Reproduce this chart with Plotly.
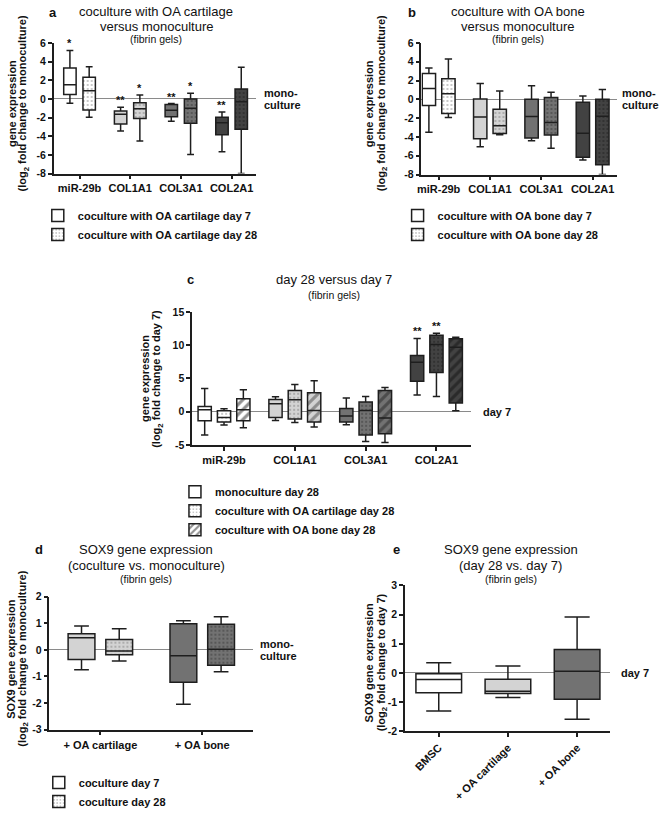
import plotly.graph_objects as go

W, H = 660, 816
FONT = "Liberation Sans, Arial, Helvetica, sans-serif"
AX = "#1e1e1e"

# ---------------- data ----------------
GENES = ["miR-29b", "COL1A1", "COL3A1", "COL2A1"]
# five-number summaries: [lower whisker, Q1, median, Q3, upper whisker]
A_DAY7 = [[-0.45, 0.48, 1.52, 3.32, 5.2], [-3.45, -2.7, -1.65, -1.3, -0.9],
          [-2.4, -1.9, -1.2, -0.6, -0.5], [-5.65, -3.85, -2.55, -1.95, -1.4]]
A_DAY28 = [[-1.97, -1.18, 0.87, 2.32, 3.45], [-4.5, -2.1, -1.05, -0.4, 0.42],
           [-5.95, -2.6, -1.0, 0.0, 0.6], [-8.0, -3.25, -0.3, 1.07, 3.4]]
A_DAY7_SIG = ["*", "**", "**", "**"]
A_DAY28_SIG = ["", "*", "*", ""]

B_DAY7 = [[-3.5, -0.65, 1.15, 2.75, 3.35], [-5.05, -4.2, -1.88, 0.05, 1.7],
          [-4.4, -4.1, -1.82, 0.0, 1.45], [-6.45, -6.15, -3.6, -0.3, 0.35]]
B_DAY28 = [[-1.92, -1.5, 0.6, 2.2, 4.3], [-3.77, -3.63, -2.8, -1.05, 0.9],
           [-5.2, -3.8, -2.47, 0.2, 0.75], [-8.0, -6.95, -1.8, 0.0, 1.05]]

C_MONO = [[-3.5, -1.35, 0.3, 0.8, 3.5], [-1.3, -0.87, 1.2, 1.85, 2.25],
          [-1.95, -1.55, -0.65, 0.5, 2.05], [2.5, 4.6, 7.45, 8.45, 11.0]]
C_CART = [[-2.0, -1.55, -0.85, 0.15, 0.45], [-1.6, -1.1, 1.8, 3.2, 4.1],
          [-4.45, -3.5, 0.2, 1.45, 2.3], [2.3, 5.9, 10.1, 11.5, 11.8]]
C_BONE = [[-2.4, -1.35, 0.3, 1.95, 3.3], [-2.3, -1.55, 0.2, 2.85, 4.65],
          [-4.6, -3.3, -0.95, 3.2, 3.65], [0.15, 1.3, 9.7, 10.95, 11.2]]
C_MONO_SIG = ["", "", "", "**"]
C_CART_SIG = ["", "", "", "**"]

D_GROUPS = ["+ OA cartilage", "+ OA bone"]
D_DAY7 = [[-0.75, -0.36, 0.46, 0.61, 0.9], [-2.05, -1.22, -0.22, 0.98, 1.1]]
D_DAY28 = [[-0.42, -0.18, -0.04, 0.39, 0.79], [-0.82, -0.58, 0.02, 0.96, 1.25]]

E_GROUPS = ["BMSC", "+ OA cartilage", "+ OA bone"]
E_VALUES = [[-1.31, -0.68, -0.23, -0.03, 0.35], [-0.84, -0.71, -0.63, -0.22, 0.24],
            [-1.59, -0.9, 0.06, 0.8, 1.92]]

AB_YTICKS = [-8, -6, -4, -2, 0, 2, 4, 6]
C_YTICKS = [-5, 0, 5, 10, 15]
D_YTICKS = [-3, -2, -1, 0, 1, 2]
E_YTICKS = [-2, -1, 0, 1, 2, 3]

# ---------------- styling ----------------
GENE_FILL = ["#ffffff", "#d3d3d3", "#727272", "#424242"]
DOT_FG = ["#707070", "#6a6a6a", "#2a2a2a", "#161616"]
HATCH_FG = ["#222222", "#4a4a4a", "#262626", "#111111"]
D_FILL = ["#d3d3d3", "#727272"]
E_FILL = ["#ffffff", "#d3d3d3", "#727272"]

fig = go.Figure()


def add_box(ax, pos, s, width, fill, pattern=None, pfg=None):
    xa, ya = "x" + ax, "y" + ax
    if pattern:
        if pattern == ".":
            pat = dict(shape=".", fgcolor=pfg, bgcolor=fill, size=4, solidity=0.2)
        else:
            pat = dict(shape="/", fgcolor=pfg, bgcolor=fill, size=7, solidity=0.45)
        fig.add_trace(go.Bar(
            x=[pos], base=[s[1]], y=[s[3] - s[1]], width=[width],
            marker=dict(color=fill, line=dict(width=0), pattern=pat),
            xaxis=xa, yaxis=ya, showlegend=False, hoverinfo="skip"))
    fig.add_trace(go.Box(
        x=[pos], lowerfence=[s[0]], q1=[s[1]], median=[s[2]], q3=[s[3]],
        upperfence=[s[4]], width=width,
        fillcolor="rgba(0,0,0,0)" if pattern else fill,
        line=dict(color=AX, width=1.5), whiskerwidth=0.55, boxpoints=False,
        xaxis=xa, yaxis=ya, showlegend=False, hoverinfo="skip"))


annotations = []


def px(x):
    return x / W


def py(y):
    return 1 - y / H


def ann(text, x, y, size=11, bold=True, xanchor="center", yanchor="middle",
        angle=0, xref="paper", yref="paper", yshift=0):
    annotations.append(dict(
        text=text, x=x, y=y, xref=xref, yref=yref, xanchor=xanchor,
        yanchor=yanchor, textangle=angle, showarrow=False, yshift=yshift,
        font=dict(family=FONT, size=size, color="#111",
                  weight="bold" if bold else "normal")))


def stars(ax, pos, s, sig):
    if sig:
        ann(sig, pos, s[4], size=11, xref="x" + ax, yref="y" + ax,
            yanchor="bottom", yshift=-1)


# panel a / b
for ax, d7, d28, off, w in (("", A_DAY7, A_DAY28, 0.19, 0.245),
                             ("2", B_DAY7, B_DAY28, 0.19, 0.26)):
    for i in range(len(GENES)):
        add_box(ax, i - off, d7[i], w, GENE_FILL[i])
        add_box(ax, i + off, d28[i], w, GENE_FILL[i], ".", DOT_FG[i])
        if ax == "":
            stars(ax, i - off, d7[i], A_DAY7_SIG[i])
            stars(ax, i + off, d28[i], A_DAY28_SIG[i])

# panel c
for i in range(len(GENES)):
    add_box("3", i - 0.273, C_MONO[i], 0.187, GENE_FILL[i])
    add_box("3", i, C_CART[i], 0.187, GENE_FILL[i], ".", DOT_FG[i])
    add_box("3", i + 0.273, C_BONE[i], 0.187, GENE_FILL[i], "/", HATCH_FG[i])
    stars("3", i - 0.273, C_MONO[i], C_MONO_SIG[i])
    stars("3", i, C_CART[i], C_CART_SIG[i])

# panel d
for i in range(len(D_GROUPS)):
    add_box("4", i - 0.185, D_DAY7[i], 0.263, D_FILL[i])
    add_box("4", i + 0.185, D_DAY28[i], 0.263, D_FILL[i], ".", DOT_FG[i + 1])

# panel e
for i in range(len(E_GROUPS)):
    add_box("5", i, E_VALUES[i], 0.66, E_FILL[i])


# legend-only entries
def leg(name, legend, pattern=None):
    m = dict(color="#ffffff", line=dict(color=AX, width=1.5))
    if pattern == ".":
        m["pattern"] = dict(shape=".", fgcolor="#707070", bgcolor="#ffffff", size=4, solidity=0.2)
    elif pattern == "/":
        m["pattern"] = dict(shape="/", fgcolor="#222222", bgcolor="#ffffff", size=6, solidity=0.45)
    fig.add_trace(go.Bar(x=[None], y=[None], name=name, marker=m, legend=legend,
                         xaxis="x", yaxis="y", showlegend=True, hoverinfo="skip"))


leg("coculture with OA cartilage day 7", "legend")
leg("coculture with OA cartilage day 28", "legend", ".")
leg("coculture with OA bone day 7", "legend2")
leg("coculture with OA bone day 28", "legend2", ".")
leg("monoculture day 28", "legend3")
leg("coculture with OA cartilage day 28", "legend3", ".")
leg("coculture with OA bone day 28", "legend3", "/")
leg("coculture day 7", "legend4")
leg("coculture day 28", "legend4", ".")


def xcfg(dom, rng, labels, anchor, angle=0):
    return dict(domain=[px(dom[0]), px(dom[1])], range=rng, type="linear",
                tickvals=list(range(len(labels))), ticktext=labels,
                showline=True, linecolor=AX, linewidth=1.5, ticks="outside",
                ticklen=4, tickwidth=1.5, tickcolor=AX, showgrid=False,
                zeroline=False, tickangle=angle, anchor=anchor, fixedrange=True,
                tickfont=dict(family=FONT, size=11, color="#111", weight="bold"))


def ycfg(dom, ticks, anchor):
    return dict(domain=[py(dom[1]), py(dom[0])], range=[ticks[0], ticks[-1]],
                tickvals=ticks, ticktext=[str(t) for t in ticks],
                showline=True, linecolor=AX, linewidth=1.5, ticks="outside",
                ticklen=4, tickwidth=1.5, tickcolor=AX, showgrid=False,
                zeroline=True, zerolinecolor="#8a8a8a", zerolinewidth=1,
                anchor=anchor, fixedrange=True,
                tickfont=dict(family=FONT, size=10.5, color="#111", weight="bold"))


# titles
for t, x, y, s, b in (
        ("a", 49, 7, 13, True),
        ("coculture with OA cartilage", 153, 6, 13, False),
        ("versus monoculture", 153, 21, 13, False),
        ("(fibrin gels)", 153, 34, 10.5, False),
        ("b", 410, 7, 13, True),
        ("coculture with OA bone", 517, 6, 13, False),
        ("versus monoculture", 517, 21, 13, False),
        ("(fibrin gels)", 517, 34, 10.5, False),
        ("c", 188, 283, 13, True),
        ("day 28 versus day 7", 332, 283, 13, False),
        ("(fibrin gels)", 332, 299, 10.5, False),
        ("d", 35, 563, 13, True),
        ("SOX9 gene expression", 143, 563, 13, False),
        ("(coculture vs. monoculture)", 143, 579, 13, False),
        ("(fibrin gels)", 143, 593, 10.5, False),
        ("e", 395, 563, 13, True),
        ("SOX9 gene expression", 510, 563, 13, False),
        ("(day 28 vs. day 7)", 510, 579, 13, False),
        ("(fibrin gels)", 510, 593, 10.5, False)):
    ann(t, px(x), py(y), size=s, bold=b)

# y-axis titles
for x1, x2, yc, l1, l2 in (
        (7.5, 19, 101, "gene expression", "(log<sub>2</sub> fold change to monoculture)"),
        (367, 380, 101, "gene expression", "(log<sub>2</sub> fold change to monoculture)"),
        (142, 154, 386, "gene expression", "(log<sub>2</sub> fold change to day 7)"),
        (7, 19, 676, "SOX9 gene expression", "(log<sub>2</sub> fold change to monoculture)"),
        (367, 380, 680, "SOX9 gene expression", "(log<sub>2</sub> fold change to day 7)")):
    ann(l1, px(x1), py(yc), size=11, angle=-90)
    ann(l2, px(x2), py(yc), size=11, angle=-90)

# reference-line labels
for xp, yr in ((260, "y"), (620, "y2"), (256, "y4")):
    ann("mono-", px(xp), 0, xanchor="left", yref=yr, yshift=6)
    ann("culture", px(xp), 0, xanchor="left", yref=yr, yshift=-6)
ann("day 7", px(480), 0, xanchor="left", yref="y3")
ann("day 7", px(619), 0, xanchor="left", yref="y5")


def legcfg(x, y):
    return dict(x=px(x), y=py(y), xanchor="left", yanchor="top",
                bgcolor="rgba(0,0,0,0)", tracegroupgap=0,
                font=dict(family=FONT, size=11, color="#111", weight="bold"))


fig.update_layout(
    width=W, height=H, autosize=False,
    margin=dict(l=0, r=0, t=0, b=0),
    paper_bgcolor="white", plot_bgcolor="white",
    barmode="overlay", boxmode="overlay", showlegend=True,
    xaxis=xcfg((50, 254), [-0.51, 3.49], GENES, "y"),
    yaxis=ycfg((38.3, 173.5), AB_YTICKS, "x"),
    xaxis2=xcfg((420, 617), [-0.335, 3.48], GENES, "y2"),
    yaxis2=ycfg((38.3, 174.5), AB_YTICKS, "x2"),
    xaxis3=xcfg((189.3, 470), [-0.45, 3.49], GENES, "y3"),
    yaxis3=ycfg((316.7, 454.7), C_YTICKS, "x3"),
    xaxis4=xcfg((45.7, 250.7), [-0.5, 1.5], D_GROUPS, "y4"),
    yaxis4=ycfg((611.7, 749.3), D_YTICKS, "x4"),
    xaxis5=xcfg((403.3, 610), [-0.49, 2.48], E_GROUPS, "y5", angle=-45),
    yaxis5=ycfg((600, 751), E_YTICKS, "x5"),
    legend=legcfg(34, 202),
    legend2=legcfg(396, 202),
    legend3=legcfg(172, 488),
    legend4=legcfg(35, 789),
    annotations=annotations,
)

fig.write_html(
    "out.html",
    config={"displayModeBar": False, "responsive": False},
    post_script="document.body.style.margin='0px';document.body.style.overflow='hidden';",
)
